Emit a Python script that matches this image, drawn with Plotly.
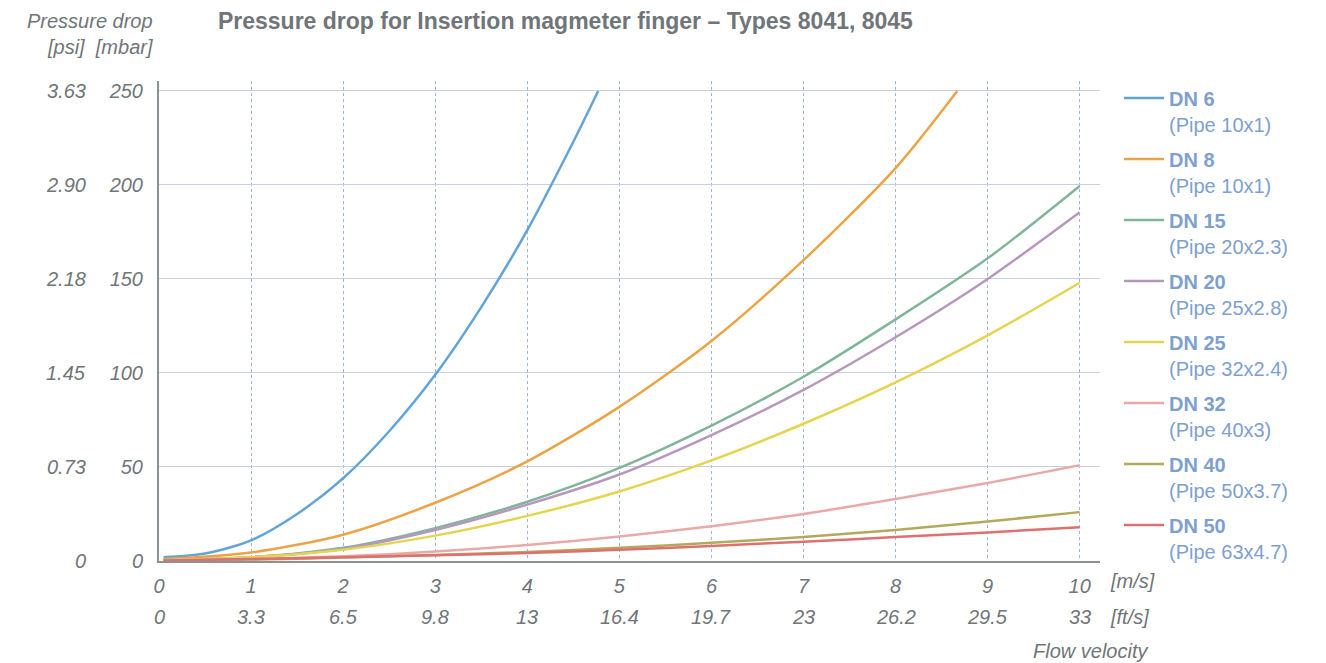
import plotly.graph_objects as go

# flow velocity [m/s] and pressure drop [mbar]
vel = [0.05, 1, 2, 3, 4, 5, 6, 7, 8, 9, 10]
vel_dn6 = [0.05, 0.5, 1, 1.5, 2, 2.5, 3, 3.5, 4, 4.5, 4.77]
vel_dn8 = [0.05, 1, 2, 3, 4, 5, 6, 7, 8, 8.67]

dn6 = [2, 4, 11, 25, 44, 69, 99, 135, 176, 223, 250]
dn8 = [1, 4.5, 14, 31, 53, 82, 117, 160, 209, 250]
dn15 = [0.5, 2, 7, 17.5, 31.5, 49.5, 72, 98, 128.5, 161, 199.5]
dn20 = [0.5, 2, 6.5, 16.5, 30, 46, 67, 91, 119, 150, 185.5]
dn25 = [0.5, 2, 6, 13.5, 24, 37, 53.5, 73, 95, 120, 148]
dn32 = [0.3, 1, 2.5, 5, 8.5, 13, 18.5, 25, 33, 41.5, 51]
dn40 = [0.3, 0.8, 1.8, 3.2, 4.8, 7, 9.7, 12.8, 16.5, 21, 26]
dn50 = [0.3, 1, 2, 3, 4.3, 6, 8, 10.3, 12.7, 15.2, 18]

series = [
    ("DN 6", "Pipe 10x1", vel_dn6, dn6, "#62a4d8"),
    ("DN 8", "Pipe 10x1", vel_dn8, dn8, "#eba445"),
    ("DN 15", "Pipe 20x2.3", vel, dn15, "#80b599"),
    ("DN 20", "Pipe 25x2.8", vel, dn20, "#b897bf"),
    ("DN 25", "Pipe 32x2.4", vel, dn25, "#e5d44f"),
    ("DN 32", "Pipe 40x3", vel, dn32, "#eaa9a9"),
    ("DN 40", "Pipe 50x3.7", vel, dn40, "#b3a95c"),
    ("DN 50", "Pipe 63x4.7", vel, dn50, "#df7070"),
]

mbar_ticks = [0, 50, 100, 150, 200, 250]
psi_labels = ["0", "0.73", "1.45", "2.18", "2.90", "3.63"]
ms_ticks = [0, 1, 2, 3, 4, 5, 6, 7, 8, 9, 10]
fts_labels = ["0", "3.3", "6.5", "9.8", "13", "16.4", "19.7", "23", "26.2", "29.5", "33"]

GREY = "#707579"
FONT = "Liberation Sans"
ital = dict(size=20, color=GREY, family=FONT, style="italic")

fig = go.Figure()
for i, (name, pipe, xs, ys, color) in enumerate(series):
    fig.add_trace(go.Scatter(
        x=xs, y=ys, mode="lines",
        line=dict(color=color, width=2.5, shape="spline", smoothing=0.8),
        name=f"<b>{name}</b><br>({pipe})",
        legendgroup=f"g{i}",
    ))

# psi labels (second tick column)
for v, lab in zip(mbar_ticks, psi_labels):
    fig.add_annotation(x=-0.075, xref="paper", y=v, yref="y", text=lab,
                       showarrow=False, xanchor="right", yanchor="middle", font=ital)

# ft/s labels (second tick row)
for v, lab in zip(ms_ticks, fts_labels):
    fig.add_annotation(x=v, xref="x", y=-0.117, yref="paper", text=lab,
                       showarrow=False, xanchor="center", yanchor="middle", font=ital)

fig.add_annotation(x=1.0085, xref="paper", y=-0.0417, yref="paper", text="[m/s]",
                   showarrow=False, xanchor="left", yanchor="middle", font=ital)
fig.add_annotation(x=1.0085, xref="paper", y=-0.117, yref="paper", text="[ft/s]",
                   showarrow=False, xanchor="left", yanchor="middle", font=ital)
fig.add_annotation(x=1.053, xref="paper", y=-0.1875, yref="paper", text="Flow velocity",
                   showarrow=False, xanchor="right", yanchor="middle", font=ital)
fig.add_annotation(x=-0.004, xref="paper", y=1.125, yref="paper", text="Pressure drop",
                   showarrow=False, xanchor="right", yanchor="middle", font=ital)
fig.add_annotation(x=-0.004, xref="paper", y=1.071, yref="paper", text="[psi]  [mbar]",
                   showarrow=False, xanchor="right", yanchor="middle", font=ital)

fig.update_layout(
    width=1318, height=655,
    margin=dict(l=151, r=226, t=73, b=102),
    plot_bgcolor="white", paper_bgcolor="white",
    title=dict(text="<b>Pressure drop for Insertion magmeter finger – Types 8041, 8045</b>",
               x=0.1593, xanchor="left", y=0.980, yanchor="middle",
               font=dict(size=23, color=GREY, family=FONT)),
    legend=dict(x=1.0202, xanchor="left", y=1.005, yanchor="top",
                font=dict(size=20, color="#7ea0d0", family=FONT),
                valign="top", tracegroupgap=6, itemwidth=40, maxheight=620,
                bgcolor="rgba(0,0,0,0)"),
    showlegend=True,
)

fig.update_xaxes(
    range=[0, 10.22], tickvals=ms_ticks, ticktext=[str(t) for t in ms_ticks],
    showgrid=True, gridcolor="#9fb3e2", griddash="dot", gridwidth=1.3,
    showline=True, linecolor="#8e9194", linewidth=2,
    ticks="", zeroline=False, ticklabelstandoff=6, tickfont=ital,
)
fig.update_yaxes(
    range=[0, 255.3], tickvals=mbar_ticks,
    showgrid=True, gridcolor="#c8cfe2", gridwidth=1,
    showline=True, linecolor="#8e9194", linewidth=2,
    ticks="", zeroline=False, ticklabelstandoff=10, tickfont=ital,
)

fig.write_html("out.html")
